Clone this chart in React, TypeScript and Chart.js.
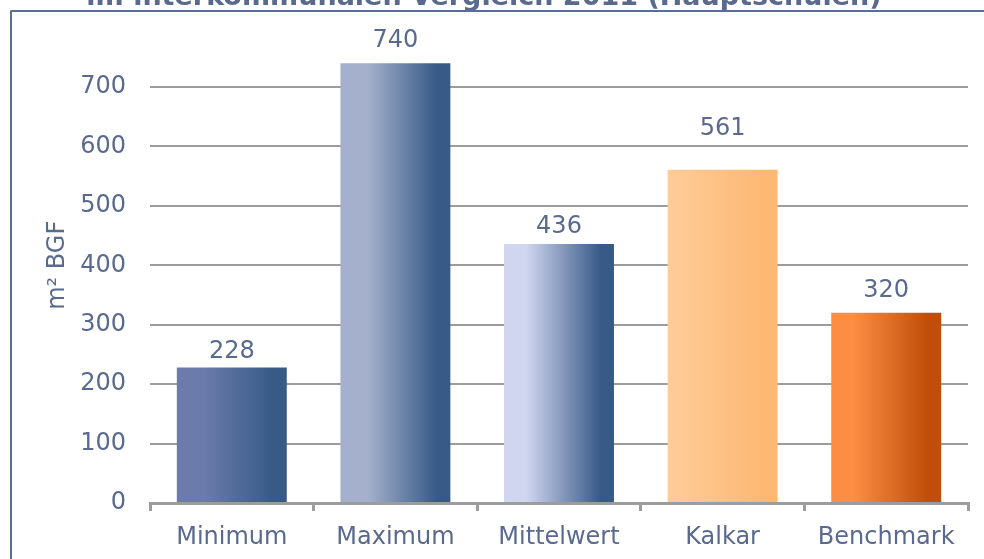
import React, { useEffect, useRef } from "react";
import { Chart, registerables } from "chart.js";

Chart.register(...registerables);

const categories = ["Minimum", "Maximum", "Mittelwert", "Kalkar", "Benchmark"];
const values = [228, 740, 436, 561, 320];
const yTicks = [0, 100, 200, 300, 400, 500, 600, 700];
const titleText = "im interkommunalen Vergleich 2011 (Hauptschulen)";
const yAxisTitle = "m² BGF";

// gradient colours per bar: [left, right, left-hold stop]
const barGradients: [string, string, number][] = [
  ["#6b7bab", "#375a87", 0.25],
  ["#a4b0cc", "#375a87", 0.25],
  ["#d1d6f0", "#375a87", 0.2],
  ["#fecc99", "#fdb873", 0.0],
  ["#fd8d42", "#c04e0a", 0.2],
];
// vertical gap between bar top and label baseline
const labelGaps = [10, 16, 11, 35, 16];

const TEXT = "#5a6a8e";
const GRID = "#9c9c9c";
const FONT = "'DejaVu Sans', Verdana, sans-serif";
const FS = 24;
const TFS = 27;
const OFFSET = 40;

const labelPlugin = {
  id: "valueLabels",
  afterDatasetsDraw(chart: any) {
    const ctx = chart.ctx;
    const meta = chart.getDatasetMeta(0);
    ctx.save();
    ctx.font = `${FS}px ${FONT}`;
    ctx.fillStyle = TEXT;
    ctx.textAlign = "center";
    ctx.textBaseline = "alphabetic";
    meta.data.forEach((el: any, i: number) => {
      ctx.fillText(String(values[i]), el.x, el.y - labelGaps[i]);
    });
    ctx.restore();
  },
};

export default function App() {
  const ref = useRef<HTMLCanvasElement>(null);
  useEffect(() => {
    const BAR_PCT = 0.672;
    const chart = new Chart(ref.current!, {
      type: "bar",
      data: {
        labels: categories,
        datasets: [
          {
            data: values,
            barPercentage: BAR_PCT,
            categoryPercentage: 1,
            backgroundColor: (c: any) => {
              const ch = c.chart;
              const xs = ch.scales.x;
              if (!xs || !ch.chartArea || c.dataIndex === undefined) return barGradients[0][0];
              const center = xs.getPixelForValue(c.dataIndex);
              const half = (xs.width / categories.length) * BAR_PCT / 2;
              const [l, r, s] = barGradients[c.dataIndex];
              const g = ch.ctx.createLinearGradient(center - half, 0, center + half, 0);
              g.addColorStop(0, l);
              g.addColorStop(s, l);
              g.addColorStop(0.88, r);
              g.addColorStop(1, r);
              return g;
            },
            borderWidth: 0,
          },
        ],
      },
      options: {
        animation: false,
        responsive: false,
        maintainAspectRatio: false,
        layout: { padding: { top: 21.3, right: 16, left: 0, bottom: 0 } },
        plugins: {
          legend: { display: false },
          tooltip: { enabled: false },
          title: {
            display: true,
            text: titleText,
            color: TEXT,
            font: { family: FONT, size: TFS, weight: "bold", lineHeight: 1.2 },
            padding: { top: 0, bottom: 13.9 },
          },
        },
        scales: {
          x: {
            grid: {
              display: true,
              drawOnChartArea: false,
              drawTicks: true,
              tickLength: 8,
              color: GRID,
              lineWidth: 3,
              offset: true,
            },
            border: { display: true, color: GRID, width: 3 },
            ticks: {
              color: TEXT,
              font: { family: FONT, size: FS },
              padding: 12,
            },
            afterFit: (s: any) => {
              s.height = 56;
            },
          },
          y: {
            min: 0,
            max: 800,
            afterBuildTicks: (s: any) => {
              s.ticks = yTicks.map((v) => ({ value: v }));
            },
            grid: { color: GRID, lineWidth: 2, drawTicks: false },
            border: { display: false },
            ticks: {
              color: TEXT,
              font: { family: FONT, size: FS },
              padding: 24,
            },
            title: {
              display: true,
              text: yAxisTitle,
              color: TEXT,
              font: { family: FONT, size: FS },
              padding: { top: 43.6, bottom: 0 },
            },
            afterFit: (s: any) => {
              s.width = 150;
            },
          },
        },
      },
      plugins: [labelPlugin],
    });
    return () => chart.destroy();
  }, []);

  return (
    <div style={{ position: "fixed", left: 0, top: 0, width: 984, height: 559, overflow: "hidden", background: "#fff" }}>
      <canvas
        ref={ref}
        width={984}
        height={559 + OFFSET}
        style={{ position: "absolute", left: 0, top: -OFFSET, width: 984, height: 559 + OFFSET }}
      />
      <div
        style={{
          position: "absolute",
          left: 10,
          top: 10,
          width: 990,
          height: 600,
          borderLeft: "2px solid #5a6d96",
          borderTop: "2px solid #5a6d96",
          borderTopLeftRadius: 2,
          boxSizing: "border-box",
          pointerEvents: "none",
        }}
      />
    </div>
  );
}
